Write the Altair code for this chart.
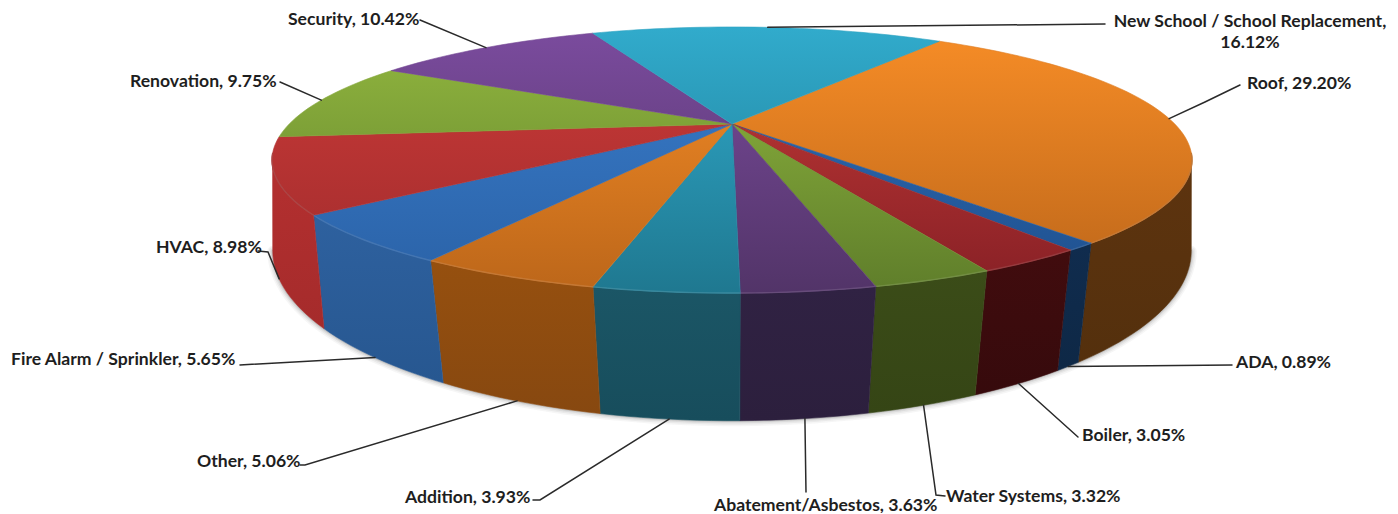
import math
import altair as alt
import pandas as pd

# ---- data ----
categories = ["Roof", "ADA", "Boiler", "Water Systems", "Abatement/Asbestos", "Addition",
              "Other", "Fire Alarm / Sprinkler", "HVAC", "Renovation", "Security",
              "New School / School Replacement"]
shares = [29.20, 0.89, 3.05, 3.32, 3.63, 3.93, 5.06, 5.65, 8.98, 9.75, 10.42, 16.12]

# top-face colour at the far edge / near edge of the disc, and wall colour (upper, lower)
top_far = ["#F78D27", "#2F70BC", "#C63A38", "#92B83F", "#7B4C9E", "#31ABCC",
           "#F78D27", "#3A7CCB", "#CC3A38", "#92B83F", "#7B4C9E", "#31ABCC"]
top_near = ["#BC661A", "#1E4F8C", "#872025", "#5F7E2B", "#523468", "#1F7890",
            "#BC661A", "#2A62A6", "#A02C2C", "#5F7E2B", "#523468", "#1F7890"]
wall_hi = ["#5E340F", "#102C4E", "#410C0E", "#3B4C18", "#302243", "#1B5666",
           "#96500F", "#2E619F", "#B53030", "#6B8A2B", "#4B3166", "#1C6F88"]
wall_lo = ["#54300D", "#0E2846", "#360A0C", "#354515", "#2C1F3D", "#174D5C",
           "#874810", "#275790", "#A52B2B", "#6B8A2B", "#4B3166", "#1C6F88"]
START_DEG = 34.9

# ---- projection of the disc (picture pixels) ----
CX = 732
TOP = dict(y0=124, a=442.8, b=123.3, k=0.2707)
BOT = dict(y0=213, a=448, b=162, k=0.22)
WALL_FROM = math.radians(103)   # silhouette of the wall, right and left
WALL_TO = math.radians(257)


def project(theta, plane):
    u, v = math.sin(theta), -math.cos(theta)
    w = 1 - plane["k"] * v
    return CX + plane["a"] * u / w, plane["y0"] + plane["b"] * v / w


def rim(t0, t1, plane):
    n = max(2, int(abs(t1 - t0) / math.radians(1.5)) + 2)
    return [project(t0 + (t1 - t0) * i / (n - 1), plane) for i in range(n)]


def mix(c1, c2, f):
    a = [int(c1[i:i + 2], 16) for i in (1, 3, 5)]
    b = [int(c2[i:i + 2], 16) for i in (1, 3, 5)]
    return "#" + "".join(f"{round(x + (y - x) * f):02X}" for x, y in zip(a, b))


X = alt.X("x:Q", scale=alt.Scale(domain=[8, 1390]), axis=None)
Y = alt.Y("y:Q", scale=alt.Scale(domain=[8, 513], reverse=True), axis=None)


def polygon(points, top_color, bottom_color):
    pts = list(points) + [points[0]]
    df = pd.DataFrame({"x": [p[0] for p in pts], "y": [p[1] for p in pts], "i": range(len(pts))})
    grad = alt.Gradient(gradient="linear", x1=0, x2=0, y1=0, y2=1,
                        stops=[alt.GradientStop(offset=0, color=top_color),
                               alt.GradientStop(offset=1, color=bottom_color)])
    return alt.Chart(df).mark_line(fill=grad, stroke=mix(top_color, bottom_color, 0.5),
                                   strokeWidth=0.6).encode(x=X, y=Y, order=alt.Order("i:Q"))


def path(points, color, width, opacity=1.0):
    df = pd.DataFrame({"x": [p[0] for p in points], "y": [p[1] for p in points],
                       "i": range(len(points))})
    return alt.Chart(df).mark_line(stroke=color, strokeWidth=width, opacity=opacity,
                                   strokeCap="round").encode(x=X, y=Y, order=alt.Order("i:Q"))


# slice limits from the shares
bounds = [math.radians(START_DEG)]
for s in shares:
    bounds.append(bounds[-1] + s / 100 * 2 * math.pi)
mids = [(a + b) / 2 for a, b in zip(bounds, bounds[1:])]

layers = []

# soft shadow round the foot of the wall
foot = rim(WALL_FROM, WALL_TO, BOT)
for width, op in [(11, 0.05), (8, 0.07), (5, 0.10), (2.5, 0.18)]:
    layers.append(path(foot, "#555555", width, op))

# walls (only the part in front of the silhouette)
for i in range(len(shares)):
    t0, t1 = max(bounds[i], WALL_FROM), min(bounds[i + 1], WALL_TO)
    if t0 < t1:
        pts = rim(t0, t1, TOP) + rim(t1, t0, BOT)
        layers.append(polygon(pts, wall_hi[i], wall_lo[i]))

# top faces: one vertical shade across the whole disc, cut to each slice's extent
Y_FAR, Y_NEAR = 27, 293
for i in range(len(shares)):
    pts = [project(0, dict(TOP, b=0, a=0))] + rim(bounds[i], bounds[i + 1], TOP)
    ys = [p[1] for p in pts]
    f0 = (min(ys) - Y_FAR) / (Y_NEAR - Y_FAR)
    f1 = (max(ys) - Y_FAR) / (Y_NEAR - Y_FAR)
    layers.append(polygon(pts, mix(top_far[i], top_near[i], f0), mix(top_far[i], top_near[i], f1)))

# light bevel along the near rim
for i in range(len(shares)):
    a, b = max(bounds[i], WALL_FROM), min(bounds[i + 1], WALL_TO)
    if a < b:
        layers.append(path(rim(a, b, TOP), mix(top_near[i], "#FFFFFF", 0.12), 1.4))

# ---- leader lines and labels (layout only) ----
# plane of the anchor, elbow/end points of the leader, left edge and middle of the label
layout = [
    (TOP, [(1205, 102), (1240, 85)], 1247, 82),
    (BOT, [(1232, 365)], 1236, 361),
    (BOT, [(1078, 437)], 1082, 434),
    (BOT, [(936, 495), (945, 496)], 946, 495),
    (BOT, [(806, 492)], 714, 504),
    (BOT, [(540, 500), (533, 500)], 405, 496),
    (BOT, [(305, 465), (300, 465)], 197, 460),
    (BOT, [(240, 365)], 11, 358),
    (BOT, [(268, 252), (258, 251)], 156, 246),
    (TOP, [(280, 82)], 130, 80),
    (TOP, [(420, 20)], 288, 18),
    (TOP, [(1105, 24)], 1250, 20),
]

for i, (plane, tail, _, _) in enumerate(layout):
    layers.append(path([project(mids[i], plane)] + tail, "#2A2A2A", 1.5))

labels = [f"{c}, {s:.2f}%" for c, s in zip(categories, shares)]
FONT = dict(font="Lato", fontWeight="bold", fontSize=17.6, color="#1E1E1E", dy=1.5)
left = pd.DataFrame({"x": [l[2] for l in layout[:-1]], "y": [l[3] for l in layout[:-1]],
                     "t": labels[:-1]})
layers.append(alt.Chart(left).mark_text(align="left", baseline="middle", **FONT)
              .encode(x=X, y=Y, text="t:N"))
last = pd.DataFrame({"x": [layout[-1][2]], "y": [layout[-1][3]],
                     "t": [f"{categories[-1]},\n{shares[-1]:.2f}%"]})
layers.append(alt.Chart(last).mark_text(align="center", baseline="middle", lineBreak="\n",
                                        lineHeight=21, **FONT)
              .encode(x=X, y=Y, text="t:N"))

chart = alt.layer(*layers).properties(
    width=1382, height=505, padding=0, autosize=alt.AutoSizeParams(type="none"),
    background="white",
).configure_view(stroke=None)

chart.save("out.html", embed_options={"renderer": "svg", "actions": False})
